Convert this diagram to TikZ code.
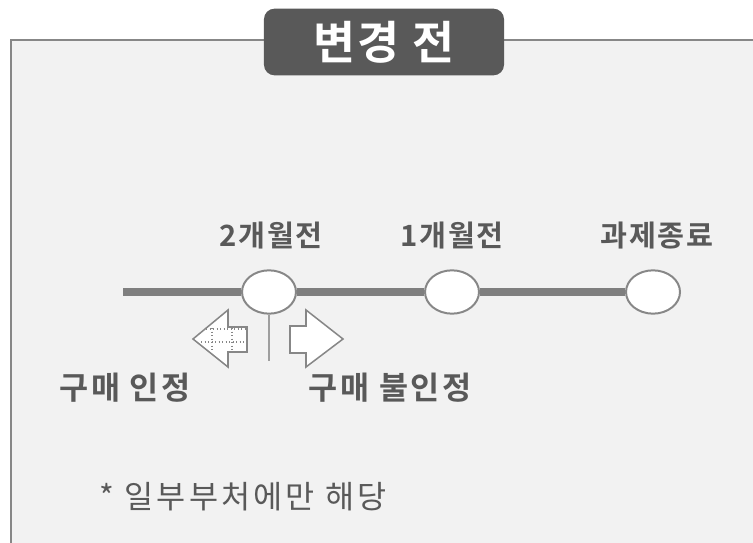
\documentclass[tikz,border=0pt]{standalone}
\usepackage{fontspec}
\newfontfamily\kr{Noto Sans CJK KR}
\newfontfamily\krb{Noto Sans CJK KR Bold}
\usetikzlibrary{shapes.geometric}
\definecolor{boxgray}{HTML}{F2F2F2}
\definecolor{edgegray}{HTML}{878787}
\definecolor{darkgray}{HTML}{595959}
\definecolor{linegray}{HTML}{7F7F7F}
\tikzset{
	stop/.style={ellipse, draw=edgegray, line width=1.7pt, fill=white, minimum width=1.62cm, minimum height=1.3cm, inner sep=0pt},
	stoplabel/.style={text=darkgray, font=\krb\addfontfeature{LetterSpace=6}\fontsize{25}{30}\selectfont},
	buylabel/.style={text=darkgray, font=\krb\addfontfeature{LetterSpace=8}\fontsize{27}{32}\selectfont}
}

\begin{document}
\begin{tikzpicture}[x=0.03cm, y=-0.03cm]
		%%%%% START %%%%%
		
		\useasboundingbox (0, 0) rectangle (753, 543);
		\clip (0, 0) rectangle (753, 543);
		\fill[white] (0, 0) rectangle (753, 543);
		
		\draw[fill=boxgray, draw=edgegray, line width=2.5pt] (11, 40) rectangle (770, 570);
		
		\node[fill=darkgray, rounded corners=9pt, minimum width=7.2cm, minimum height=2.0cm, text=white, font=\krb\addfontfeature{LetterSpace=4}\fontsize{39}{46}\selectfont] (title) at (384, 42) {변경 전};
		
		\node[stop] (t1) at (269, 292) {};
		\node[stop] (t2) at (452, 292) {};
		\node[stop] (t3) at (653, 292) {};
		
		\node[stoplabel] (l1) at (271, 236) {2개월전};
		\node[stoplabel] (l2) at (452, 236) {1개월전};
		\node[stoplabel] (l3) at (657, 236) {과제종료};
		
		\coordinate (tlStart) at (123, 292);
		\draw[line width=6pt, color=linegray] (tlStart) -- (t1.west);
		\draw[line width=6pt, color=linegray] (t1.east) -- (t2.west);
		\draw[line width=6pt, color=linegray] (t2.east) -- (t3.west);
		
		\coordinate (markEnd) at (269, 361);
		\draw[line width=1.2pt, color=edgegray!80] (t1.south) -- (markEnd);
		
		\draw[line width=1.3pt, color=edgegray, fill=white] (247, 327) -- (228, 327) -- (228, 310) -- (193, 339) -- (228, 367) -- (228, 352) -- (247, 352) -- cycle;
		\draw[line width=1pt, color=edgegray, dotted] (212, 328) -- (212, 352);
		\draw[line width=1pt, color=edgegray, dotted] (232, 328) -- (232, 352);
		\draw[line width=1pt, color=edgegray, dotted] (206, 329) -- (246, 329);
		\draw[line width=1pt, color=edgegray, dotted] (201, 342) -- (246, 342);
		
		\draw[line width=1.3pt, color=edgegray, fill=white] (290, 326) -- (306, 326) -- (306, 310) -- (343, 339) -- (306, 367) -- (306, 353) -- (290, 353) -- cycle;
		
		\node[buylabel] (buyYes) at (125, 388) {구매 인정};
		\node[buylabel] (buyNo) at (390, 388) {구매 불인정};
		
		\node[text=darkgray, font=\kr\addfontfeature{LetterSpace=10}\fontsize{27}{32}\selectfont] (note) at (243, 497) {* 일부부처에만 해당};
		
		%%%%% END %%%%%
	\end{tikzpicture}
\end{document}
